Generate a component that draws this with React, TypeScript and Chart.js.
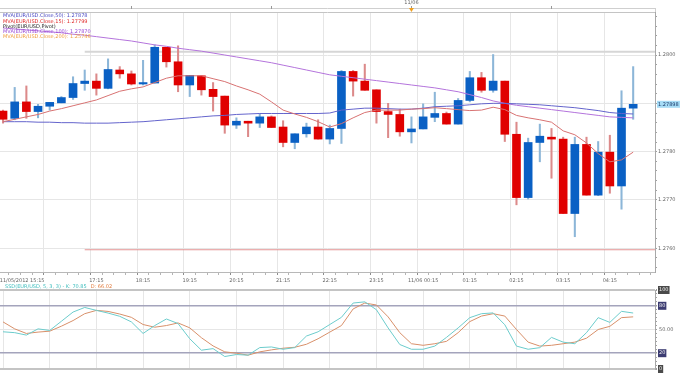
import React, { useEffect, useRef } from 'react';
import { Chart, registerables } from 'chart.js';
Chart.register(...registerables);

// ---------- data ----------
const opens = [
  1.27884, 1.27869, 1.27903, 1.27883, 1.27894, 1.27901, 1.27912, 1.27941, 1.27946, 1.27931,
  1.27969, 1.27961, 1.2794, 1.27942, 1.28016, 1.27986, 1.27938, 1.27957, 1.27929, 1.27915,
  1.27855, 1.27863, 1.27859, 1.27872, 1.27851, 1.27819, 1.27837, 1.27851, 1.27826, 1.27848,
  1.27966, 1.27946, 1.27928, 1.27883, 1.27877, 1.27841, 1.27847, 1.27871, 1.27879, 1.27857,
  1.27906, 1.27953, 1.27927, 1.27946, 1.27836, 1.27705, 1.27819, 1.2783, 1.27826, 1.27672,
  1.27815, 1.2771, 1.27799, 1.27729, 1.2789,
];
const highs = [
  1.27886, 1.27933, 1.27936, 1.27898, 1.27902, 1.27914, 1.27955, 1.27969, 1.27961, 1.27992,
  1.27976, 1.27967, 1.27989, 1.28021, 1.28016, 1.28019, 1.27958, 1.27957, 1.27943, 1.27915,
  1.2787, 1.27863, 1.27879, 1.27874, 1.27864, 1.27837, 1.27859, 1.27866, 1.27855, 1.27968,
  1.27968, 1.27981, 1.27928, 1.279, 1.27888, 1.27872, 1.27899, 1.27923, 1.27882, 1.2791,
  1.27966, 1.27964, 1.28001, 1.27946, 1.27861, 1.27828, 1.27857, 1.27848, 1.2783, 1.2783,
  1.2783, 1.27821, 1.27834, 1.27926, 1.27976,
];
const lows = [
  1.27859, 1.27866, 1.27869, 1.2787, 1.27886, 1.27901, 1.27908, 1.27927, 1.27917, 1.2793,
  1.27952, 1.27938, 1.27938, 1.27942, 1.27975, 1.27924, 1.27914, 1.27917, 1.27884, 1.27838,
  1.27848, 1.27831, 1.2785, 1.2785, 1.2781, 1.27806, 1.2783, 1.27826, 1.27816, 1.27817,
  1.27915, 1.27927, 1.27859, 1.27829, 1.27832, 1.27818, 1.27847, 1.27862, 1.27857, 1.27857,
  1.27903, 1.27923, 1.27923, 1.27821, 1.2769, 1.27702, 1.27779, 1.27745, 1.27672, 1.27624,
  1.2771, 1.27709, 1.27714, 1.27681, 1.27867,
];
const closes = [
  1.27867, 1.27903, 1.27883, 1.27894, 1.27902, 1.27912, 1.27941, 1.27946, 1.27931, 1.2797,
  1.27961, 1.2794, 1.27943, 1.28016, 1.27986, 1.27938, 1.27958, 1.27928, 1.27914, 1.27855,
  1.27863, 1.27859, 1.27872, 1.2785, 1.27819, 1.27837, 1.27851, 1.27826, 1.27848, 1.27966,
  1.27946, 1.27927, 1.27883, 1.27877, 1.27841, 1.27847, 1.27872, 1.27879, 1.27857, 1.27906,
  1.27953, 1.27927, 1.27946, 1.27836, 1.27705, 1.27819, 1.27832, 1.27826, 1.27672, 1.27815,
  1.2771, 1.27799, 1.27729, 1.2789, 1.27898,
];
const mva15 = [
  1.27862, 1.27867, 1.27872, 1.27877, 1.27884, 1.27889, 1.27895, 1.27901, 1.27907, 1.27916,
  1.27925, 1.2793, 1.27934, 1.27943, 1.27952, 1.27957, 1.27957, 1.27957, 1.27951, 1.27945,
  1.27936, 1.27928, 1.27919, 1.27903, 1.27886, 1.27878, 1.27871, 1.27862, 1.27851, 1.27858,
  1.2787, 1.27881, 1.27886, 1.27886, 1.27886, 1.27888, 1.27889, 1.27891, 1.27889, 1.27887,
  1.27885, 1.27886, 1.27892, 1.27887, 1.27875, 1.2787, 1.27866, 1.27861, 1.27843, 1.27835,
  1.27818, 1.27796, 1.27779, 1.27783, 1.27799,
];
const mva50 = [
  1.27862, 1.27862, 1.27862, 1.27861, 1.27861, 1.2786, 1.2786, 1.27859, 1.27859, 1.27859,
  1.2786, 1.27861, 1.27862, 1.27864, 1.27866, 1.27868, 1.2787, 1.27872, 1.27874, 1.27875,
  1.27877, 1.27878, 1.27879, 1.27879, 1.27879, 1.27879, 1.27879, 1.27879, 1.2788, 1.27886,
  1.27888, 1.2789, 1.2789, 1.27889, 1.27888, 1.27888, 1.2789, 1.27893, 1.27894, 1.27895,
  1.27897, 1.27899, 1.279, 1.279, 1.27899, 1.27898, 1.27897, 1.27895, 1.27893, 1.27891,
  1.27888, 1.27885, 1.27881, 1.27879, 1.27878,
];
const mva100 = [
  1.28056, 1.28054, 1.28052, 1.2805, 1.28048, 1.28046, 1.28043, 1.28041, 1.28038, 1.28035,
  1.28032, 1.28029, 1.28025, 1.28021, 1.28018, 1.28014, 1.28011, 1.28008, 1.28004, 1.28,
  1.27996, 1.27992, 1.27988, 1.27984, 1.27979, 1.27974, 1.27969, 1.27964, 1.27959, 1.27956,
  1.27953, 1.2795, 1.27947, 1.27944, 1.27941, 1.27938, 1.27935, 1.27932, 1.27928, 1.27924,
  1.27918, 1.27912, 1.27905, 1.279, 1.27896, 1.27893, 1.2789, 1.27887, 1.27884, 1.27881,
  1.27878, 1.27875, 1.27872, 1.27871, 1.2787,
];
const pivotLevels = [1.28007, 1.27597];
const pivotStartIndex = 7;
const lastPrice = 1.27898;

const stochK = [
  47.1, 46, 42.9, 50.8, 48.8, 60.4, 72.1, 77.9, 74.2, 70.8,
  66.7, 59.6, 45, 55, 63.3, 57.5, 38.3, 23.8, 25.8, 15.8,
  18.3, 17.5, 27.1, 27.9, 25, 27.1, 41.7, 47.1, 56.3, 65.4,
  83.5, 85, 75, 52, 31, 25, 25, 29, 40, 52,
  65, 70, 71, 56, 29, 25, 27, 40, 34, 32,
  46, 65, 59, 73, 70.85,
];
const stochD = [
  59.6, 50.8, 45, 46.7, 47.9, 54.2, 61.3, 70, 74.2, 72.9,
  69.6, 65.4, 56.3, 52.9, 55, 58.3, 52.1, 39.6, 29.2, 21.7,
  20, 17.5, 21.7, 24.2, 26.3, 27.5, 31.3, 38.3, 46.7, 55,
  76, 83.5, 81, 66, 46, 32, 30, 32, 35, 46,
  60, 67, 70, 67, 50, 34, 29, 30, 32, 34,
  39, 50, 54, 65, 66.02,
];

const hourTickIndex = [0, 8, 12, 16, 20, 24, 28, 32, 36, 40, 44, 48, 52];
const hourTickText = [
  '11/05/2012 15:15', '17:15', '18:15', '19:15', '20:15', '21:15', '22:15', '23:15',
  '11/06 00:15', '01:15', '02:15', '03:15', '04:15',
];
const dayMarkIndex = 35;
const dayMarkText = '11/06';
const priceLabelValues = [1.276, 1.277, 1.278, 1.28];
const stochLabelValues = [0, 20, 50, 80, 100];

const legendLines = [
  { text: 'MVA(EUR/USD.Close,50): 1.27878', color: '#4a4ac4' },
  { text: 'MVA(EUR/USD.Close,15): 1.27799', color: '#e02828' },
  { text: 'Pivot(EUR/USD,Pivot)', color: '#222222' },
  { text: 'MVA(EUR/USD.Close,100): 1.27870', color: '#9a4ad6' },
  { text: 'MVA(EUR/USD.Close,200): 1.25746', color: '#f0a040' },
];

// ---------- layout constants ----------
const X_MIN = -0.26;
const X_MAX = 55.87;
const Y_MIN = 1.27551;
const Y_MAX = 1.28089;
const FONT = 'DejaVu Sans';

const idx = opens.map((_, i) => i);
const isUp = (i: number) => closes[i] >= opens[i];

function xScaleBase(showLabels: boolean): any {
  return {
    type: 'linear',
    position: 'bottom',
    min: X_MIN,
    max: X_MAX,
    offset: false,
    afterBuildTicks: (s: any) => {
      const t = [];
      for (let v = 0; v <= 55; v++) t.push({ value: v });
      s.ticks = t;
    },
    afterFit: (s: any) => {
      s.height = showLabels ? 14 : 5;
      s.paddingLeft = 0;
      s.paddingRight = 0;
    },
    ticks: {
      display: showLabels,
      autoSkip: false,
      maxRotation: 0,
      minRotation: 0,
      padding: 3,
      color: '#666',
      font: { family: FONT, size: 5 },
      callback: (v: number) => {
        const k = hourTickIndex.indexOf(v);
        if (k < 0) return '';
        const t = hourTickText[k];
        return k === 0 ? ' '.repeat(24) + t : t;
      },
    },
    grid: {
      color: (c: any) => (c.tick && c.tick.value % 4 === 0 ? '#e6e6e6' : 'rgba(0,0,0,0)'),
      tickColor: (c: any) => (c.tick && c.tick.value % 4 === 0 ? '#8c8c8c' : '#b4b4b4'),
      tickLength: showLabels ? 3 : 0,
      drawTicks: showLabels,
    },
    border: { display: showLabels, color: '#b8b8b8' },
  };
}

function mainConfig(): any {
  const bodyColors = idx.map((i) => (isUp(i) ? '#0a60c4' : '#e00000'));
  const wickColors = idx.map((i) => (isUp(i) ? '#8cb6d8' : '#dc8a8a'));
  const line = (label: string, arr: number[], color: string) => ({
    type: 'line',
    label,
    data: idx.map((i) => ({ x: i, y: arr[i] })),
    borderColor: color,
    borderWidth: 1,
    pointRadius: 0,
    tension: 0,
    order: 0,
  });
  const overlay = {
    id: 'mainOverlay',
    afterDraw(chart: any) {
      const { ctx, chartArea, scales } = chart;
      const { left, right, top } = chartArea;
      ctx.save();
      ctx.strokeStyle = '#c4c4c4';
      ctx.lineWidth = 1;
      ctx.beginPath();
      ctx.moveTo(left, top + 0.5);
      ctx.lineTo(right, top + 0.5);
      ctx.stroke();
      ctx.strokeStyle = '#cfcfcf';
      ctx.beginPath();
      ctx.moveTo(0, 8.5);
      ctx.lineTo(right, 8.5);
      ctx.moveTo(right + 0.5, 8);
      ctx.lineTo(right + 0.5, top);
      ctx.stroke();
      ctx.strokeStyle = '#999';
      for (let v = 11; v <= 55; v += 12) {
        const px = Math.round(scales.x.getPixelForValue(v)) + 0.5;
        ctx.beginPath();
        ctx.moveTo(px, 6);
        ctx.lineTo(px, 9);
        ctx.stroke();
      }
      const dx = scales.x.getPixelForValue(dayMarkIndex);
      ctx.fillStyle = '#666';
      ctx.font = `5px ${FONT}`;
      ctx.textAlign = 'center';
      ctx.textBaseline = 'middle';
      ctx.fillText(dayMarkText, dx, 3);
      ctx.fillStyle = '#f0a020';
      ctx.beginPath();
      ctx.moveTo(dx - 2.5, 8);
      ctx.lineTo(dx + 2.5, 8);
      ctx.lineTo(dx, 12);
      ctx.closePath();
      ctx.fill();
      ctx.textAlign = 'left';
      ctx.textBaseline = 'middle';
      ctx.font = `5px ${FONT}`;
      legendLines.forEach((l, k) => {
        ctx.fillStyle = l.color;
        ctx.fillText(l.text, 3, 16 + k * 5.3);
      });
      const py = scales.y.getPixelForValue(lastPrice);
      ctx.fillStyle = '#a6dcf6';
      ctx.fillRect(right + 2, py - 3.5, 23, 7);
      ctx.fillStyle = '#1a3a6a';
      ctx.font = `5px ${FONT}`;
      ctx.fillText(lastPrice.toFixed(5), right + 3, py);
      ctx.restore();
    },
  };
  return {
    type: 'bar',
    data: {
      datasets: [
        line('MVA(EUR/USD.Close,15)', mva15, '#d87272'),
        line('MVA(EUR/USD.Close,50)', mva50, '#6464cc'),
        line('MVA(EUR/USD.Close,100)', mva100, '#b474dc'),
        {
          type: 'bar',
          label: 'body',
          data: idx.map((i) => ({ x: i, y: [opens[i], closes[i]] })),
          backgroundColor: bodyColors,
          barThickness: 8,
          minBarLength: 1,
          grouped: false,
          order: 1,
        },
        {
          type: 'bar',
          label: 'wick',
          data: idx.map((i) => ({ x: i, y: [lows[i], highs[i]] })),
          backgroundColor: wickColors,
          barThickness: 1.4,
          grouped: false,
          order: 2,
        },
        {
          type: 'line',
          label: 'pivot',
          data: [
            { x: pivotStartIndex, y: pivotLevels[0] },
            { x: X_MAX, y: pivotLevels[0] },
          ],
          borderColor: '#d6d6d6',
          borderWidth: 2,
          pointRadius: 0,
          order: 3,
        },
        {
          type: 'line',
          label: 'support',
          data: [
            { x: pivotStartIndex, y: pivotLevels[1] },
            { x: X_MAX, y: pivotLevels[1] },
          ],
          borderColor: '#e49494',
          borderWidth: 1.2,
          pointRadius: 0,
          order: 3,
        },
      ],
    },
    options: {
      animation: false,
      responsive: false,
      maintainAspectRatio: false,
      layout: { padding: { top: 12, left: 0, right: 0, bottom: 0 } },
      plugins: { legend: { display: false }, tooltip: { enabled: false } },
      scales: {
        x: xScaleBase(true),
        y: {
          type: 'linear',
          position: 'right',
          min: Y_MIN,
          max: Y_MAX,
          afterBuildTicks: (s: any) => {
            const t = [];
            for (let k = 0; k <= 26; k++) t.push({ value: Math.round((1.2756 + k * 0.0002) * 1e5) / 1e5 });
            s.ticks = t;
          },
          afterFit: (s: any) => {
            s.width = 25;
            s.paddingTop = 0;
            s.paddingBottom = 0;
          },
          ticks: {
            autoSkip: false,
            padding: 1,
            color: '#666',
            font: { family: FONT, size: 5 },
            callback: (v: number) =>
              priceLabelValues.some((p) => Math.abs(p - v) < 1e-7) ? v.toFixed(4) : '',
          },
          grid: {
            color: (c: any) =>
              c.tick && Math.abs(c.tick.value * 1000 - Math.round(c.tick.value * 1000)) < 1e-4
                ? '#e6e6e6'
                : 'rgba(0,0,0,0)',
            tickColor: '#a0a0a0',
            tickLength: 2,
          },
          border: { color: '#a8a8a8' },
        },
      },
    },
    plugins: [overlay],
  };
}

function stochConfig(): any {
  const overlay = {
    id: 'stochOverlay',
    afterDraw(chart: any) {
      const { ctx } = chart;
      ctx.save();
      ctx.font = `5px ${FONT}`;
      ctx.textAlign = 'left';
      ctx.textBaseline = 'middle';
      const t1 = 'SSD(EUR/USD, 5, 3, 3) - K: 70.85';
      ctx.fillStyle = '#3cbcbc';
      ctx.fillText(t1, 5, 7);
      const w = ctx.measureText(t1).width;
      ctx.fillStyle = '#e07a3c';
      ctx.fillText('D: 66.02', 5 + w + 4, 7);
      ctx.restore();
    },
  };
  const lineColorFor = (v: number) => {
    if (v === 100 || v === 0) return '#c4c4c4';
    if (v === 80 || v === 20) return '#a4a4bc';
    if (v === 50) return '#e6e6e6';
    return 'rgba(0,0,0,0)';
  };
  return {
    type: 'line',
    data: {
      datasets: [
        {
          label: 'K',
          data: idx.map((i) => ({ x: i, y: stochK[i] })),
          borderColor: '#6ccccc',
          borderWidth: 1,
          pointRadius: 0,
        },
        {
          label: 'D',
          data: idx.map((i) => ({ x: i, y: stochD[i] })),
          borderColor: '#d8906a',
          borderWidth: 1,
          pointRadius: 0,
        },
      ],
    },
    options: {
      animation: false,
      responsive: false,
      maintainAspectRatio: false,
      layout: { padding: { top: 10, left: 0, right: 0, bottom: 0 } },
      plugins: { legend: { display: false }, tooltip: { enabled: false } },
      scales: {
        x: xScaleBase(false),
        y: {
          type: 'linear',
          position: 'right',
          min: 0,
          max: 100,
          afterBuildTicks: (s: any) => {
            const t = [];
            for (let v = 0; v <= 100; v += 5) t.push({ value: v });
            s.ticks = t;
          },
          afterFit: (s: any) => {
            s.width = 25;
            s.paddingTop = 0;
            s.paddingBottom = 0;
          },
          ticks: {
            autoSkip: false,
            padding: 2,
            font: { family: FONT, size: 5 },
            color: (c: any) => (c.tick && c.tick.value === 50 ? '#666' : '#f0f0f0'),
            showLabelBackdrop: (c: any) => !!c.tick && stochLabelValues.includes(c.tick.value) && c.tick.value !== 50,
            backdropColor: (c: any) =>
              c.tick && (c.tick.value === 100 || c.tick.value === 0) ? '#4a4a4a' : '#3c3c72',
            backdropPadding: 1,
            callback: (v: number) => (stochLabelValues.includes(v) ? (v === 50 ? '50.00' : String(v)) : ''),
          },
          grid: {
            color: (c: any) => (c.tick ? lineColorFor(c.tick.value) : 'rgba(0,0,0,0)'),
            lineWidth: (c: any) =>
              c.tick && (c.tick.value === 100 || c.tick.value === 0)
                ? 2
                : c.tick && (c.tick.value === 80 || c.tick.value === 20)
                ? 1.5
                : 1,
            tickColor: '#a0a0a0',
            tickLength: 2,
          },
          border: { color: '#a8a8a8' },
        },
      },
    },
    plugins: [overlay],
  };
}

export default function App() {
  const mainRef = useRef<HTMLCanvasElement>(null);
  const stochRef = useRef<HTMLCanvasElement>(null);
  useEffect(() => {
    const c1 = new Chart(mainRef.current as HTMLCanvasElement, mainConfig());
    const c2 = new Chart(stochRef.current as HTMLCanvasElement, stochConfig());
    return () => {
      c1.destroy();
      c2.destroy();
    };
  }, []);
  return (
    <div style={{ position: 'absolute', left: 0, top: 0, width: 680, height: 374, background: '#fff', overflow: 'hidden' }}>
      <canvas ref={mainRef} width={680} height={286} style={{ position: 'absolute', left: 0, top: 0 }} />
      <canvas ref={stochRef} width={680} height={94} style={{ position: 'absolute', left: 0, top: 280 }} />
    </div>
  );
}
